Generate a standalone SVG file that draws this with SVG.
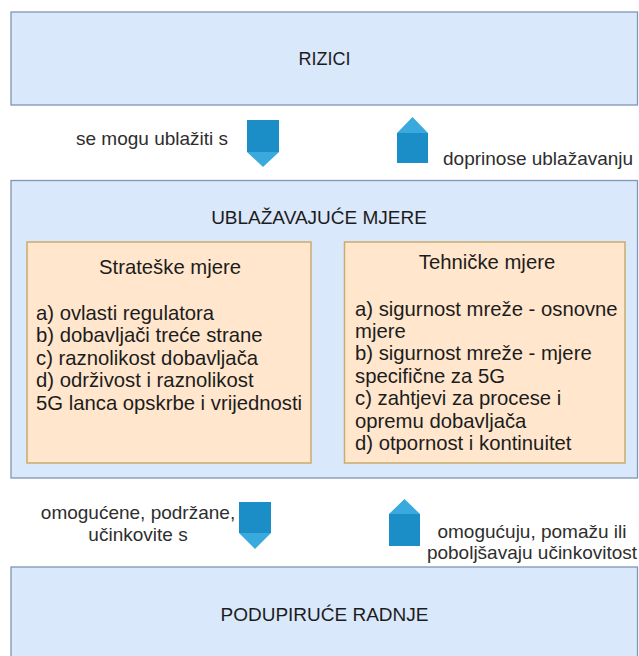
<svg xmlns="http://www.w3.org/2000/svg" width="639" height="656" viewBox="0 0 639 656">
<style>
text{font-family:"Liberation Sans",Arial,sans-serif;fill:#1c1c1c}
.blue{fill:#dae8fc;stroke:#8096b3;stroke-width:1.3}
.orange{fill:#ffe6cc;stroke:#c9ab6b;stroke-width:1.5}
.big{font-size:19px}
.list{font-size:20.3px}
.lbl{font-size:19px;fill:#2e2e2e}
.sq{fill:#1b8ec8}
.tri{fill:#3aa9de}
</style>
<rect width="639" height="656" fill="#ffffff"/>
<g id="rizici">
<rect class="blue" x="11" y="12" width="626.5" height="93"/>
<text class="big" x="324.5" y="64.5" text-anchor="middle" style="font-size:18px">RIZICI</text>
</g>
<g id="ublazavajuce-mjere">
<rect class="blue" x="11" y="180.5" width="626.5" height="297.5"/>
<text class="big" x="319" y="223.5" text-anchor="middle">UBLAŽAVAJUĆE MJERE</text>
</g>
<g id="strateske-mjere">
<rect class="orange" x="27" y="242" width="284" height="221"/>
<text class="list" x="170" y="273.5" text-anchor="middle">Strateške mjere</text>
<text class="list" x="36" y="320">a) ovlasti regulatora</text>
<text class="list" x="36" y="342.4">b) dobavljači treće strane</text>
<text class="list" x="36" y="364.8">c) raznolikost dobavljača</text>
<text class="list" x="36" y="387.2">d) održivost i raznolikost</text>
<text class="list" x="36" y="409.6">5G lanca opskrbe i vrijednosti</text>
</g>
<g id="tehnicke-mjere">
<rect class="orange" x="344.5" y="242" width="280.5" height="221"/>
<text class="list" x="487" y="268.5" text-anchor="middle">Tehničke mjere</text>
<text class="list" x="355" y="315.5">a) sigurnost mreže - osnovne</text>
<text class="list" x="355" y="337.9">mjere</text>
<text class="list" x="355" y="360.3">b) sigurnost mreže - mjere</text>
<text class="list" x="355" y="382.7">specifične za 5G</text>
<text class="list" x="355" y="405.1">c) zahtjevi za procese i</text>
<text class="list" x="355" y="427.5">opremu dobavljača</text>
<text class="list" x="355" y="449.9">d) otpornost i kontinuitet</text>
</g>
<g id="podupiruce-radnje">
<rect class="blue" x="11" y="567" width="626.5" height="100"/>
<text class="big" x="324.5" y="620.5" text-anchor="middle">PODUPIRUĆE RADNJE</text>
</g>
<g id="connectors">
<g id="c1">
<rect class="sq" x="247" y="120" width="32" height="32"/>
<polygon class="tri" points="247,152 279,152 263,167"/>
<text class="lbl" x="76" y="144.5">se mogu ublažiti s</text>
</g>
<g id="c2">
<polygon class="tri" points="397,133 412.5,117 428,133"/>
<rect class="sq" x="397" y="133" width="31" height="30"/>
<text class="lbl" x="443" y="164.5">doprinose ublažavanju</text>
</g>
<g id="c3">
<rect class="sq" x="239" y="502" width="32" height="31"/>
<polygon class="tri" points="239,533 271,533 255,549"/>
<text class="lbl" x="138" y="519" text-anchor="middle">omogućene, podržane,</text>
<text class="lbl" x="138" y="541" text-anchor="middle">učinkovite s</text>
</g>
<g id="c4">
<polygon class="tri" points="389,514 404.5,499 420,514"/>
<rect class="sq" x="389" y="514" width="31" height="32"/>
<text class="lbl" x="532" y="538" text-anchor="middle">omogućuju, pomažu ili</text>
<text class="lbl" x="532" y="559" text-anchor="middle">poboljšavaju učinkovitost</text>
</g>
</g>
</svg>
